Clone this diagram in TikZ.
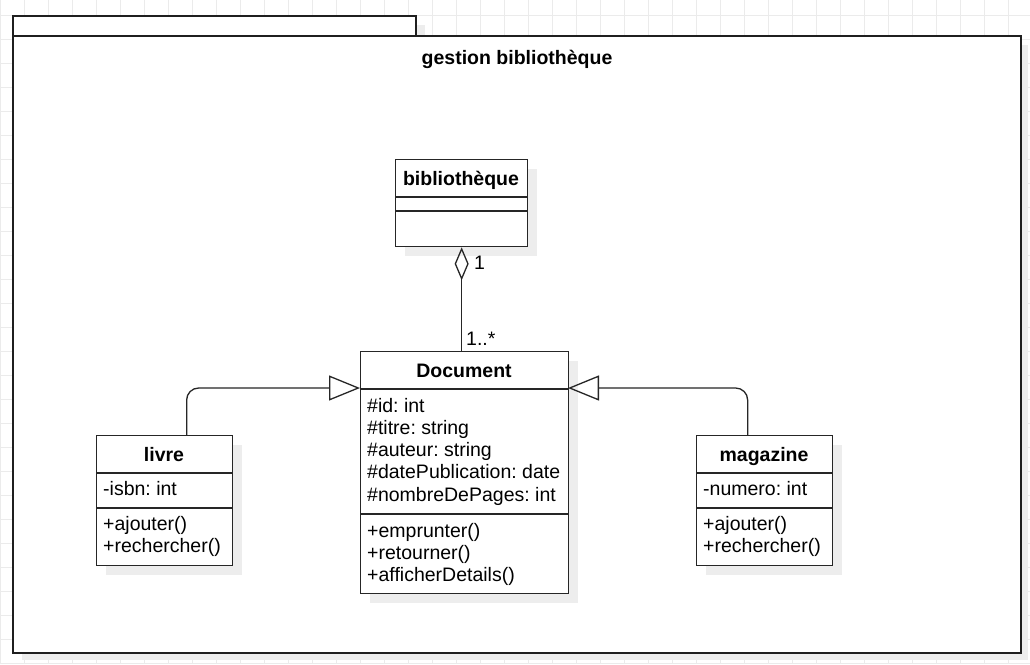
\documentclass[tikz,border=0pt]{standalone}
\usepackage{fontspec}
\setmainfont{Liberation Sans}
\usetikzlibrary{arrows.meta}
\frenchspacing
\begin{document}
\begin{tikzpicture}[x=1pt,y=-1pt,
  cls/.style={draw=black!85, line width=1.3pt, fill=white, inner sep=0pt, anchor=north west},
  sh/.style={fill=black!7, draw=none},
  ttl/.style={font=\fontsize{19.5}{22.3}\selectfont\bfseries, anchor=base, inner sep=0pt},
  txt/.style={font=\fontsize{19.5}{22.3}\selectfont, anchor=base west, inner sep=0pt},
  sep/.style={draw=black!85, line width=1.3pt},
  conn/.style={line width=1.3pt, draw=black!85},
  gen/.style={conn, rounded corners=12pt, -{Triangle[open, length=31pt, width=25pt, line width=1.3pt]}},
  agg/.style={conn, {Diamond[open, length=33pt, width=14pt, line width=1.3pt]}-},
  pkg/.style={draw=black!88, line width=1.7pt, fill=white, inner sep=0pt, anchor=north west},
]
\useasboundingbox (0,0) rectangle (1030,664);
% background and grid
\fill[white] (0,0) rectangle (1030,664);
\begin{scope}
\clip (0,0) rectangle (1030,664);
\foreach \gx in {0,24,...,1032} \draw[black!8, line width=1pt] (\gx,0) -- (\gx,664);
\foreach \gy in {15,39,...,663} \draw[black!8, line width=1pt] (0,\gy) -- (1030,\gy);
\end{scope}
% package
\fill[sh] (22,25) rectangle (425,45);
\fill[sh] (22,45) rectangle (1028,660);
\node[pkg, minimum width=403pt, minimum height=20pt] (pkgtab) at (12,15) {};
\node[pkg, minimum width=1008pt, minimum height=617pt] (pkg) at (12,35) {};
\node[ttl] (pkgname) at (517,64) {gestion bibliothèque};

% bibliotheque
\fill[sh] (405,169) rectangle (537,256);
\node[cls, minimum width=132pt, minimum height=87pt] (biblio) at (395,159) {};
\draw[sep] (395,197) -- (527,197);
\draw[sep] (395,211) -- (527,211);
\node[ttl] (biblioname) at (461,185) {bibliothèque};

% Document
\fill[sh] (370,361) rectangle (578,603);
\node[cls, minimum width=208pt, minimum height=242pt] (doc) at (360,351) {};
\draw[sep] (360,389) -- (568,389);
\draw[sep] (360,514) -- (568,514);
\node[ttl] (docname) at (464,377) {Document};
\node[txt] (a1) at (367,412) {\#id: int};
\node[txt] (a2) at (367,434.3) {\#titre: string};
\node[txt] (a3) at (367,456.6) {\#auteur: string};
\node[txt] (a4) at (367,478.9) {\#datePublication: date};
\node[txt] (a5) at (367,501.2) {\#nombreDePages: int};
\node[txt] (m1) at (367,537) {+emprunter()};
\node[txt] (m2) at (367,559.3) {+retourner()};
\node[txt] (m3) at (367,581.6) {+afficherDetails()};

% livre
\fill[sh] (106,445) rectangle (242,575);
\node[cls, minimum width=136pt, minimum height=130pt] (livre) at (96,435) {};
\draw[sep] (96,473) -- (232,473);
\draw[sep] (96,508) -- (232,508);
\node[ttl] (livrename) at (164,461) {livre};
\node[txt] (l1) at (103,495) {-isbn: int};
\node[txt] (l2) at (103,530) {+ajouter()};
\node[txt] (l3) at (103,552.3) {+rechercher()};

% magazine
\fill[sh] (706,445) rectangle (842,575);
\node[cls, minimum width=136pt, minimum height=130pt] (mag) at (696,435) {};
\draw[sep] (696,473) -- (832,473);
\draw[sep] (696,508) -- (832,508);
\node[ttl] (magname) at (764,461) {magazine};
\node[txt] (g1) at (703,495) {-numero: int};
\node[txt] (g2) at (703,530) {+ajouter()};
\node[txt] (g3) at (703,552.3) {+rechercher()};

% connectors
\coordinate (docL) at (360,388);
\coordinate (docR) at (568,388);
\draw[agg] (biblio.south) -- (biblio.south |- doc.north);
\node[txt] (m1lbl) at (474,269) {1};
\node[txt] (mnlbl) at (466,345) {1..*};
\draw[gen] ([xshift=22pt]livre.north) |- (docL);
\draw[gen] ([xshift=-17pt]mag.north) |- (docR);
\end{tikzpicture}
\end{document}
